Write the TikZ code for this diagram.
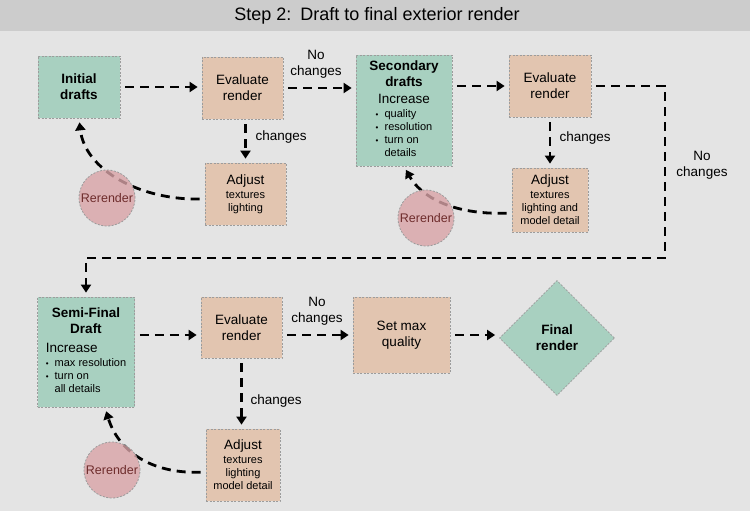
\documentclass[tikz,border=0pt]{standalone}
\usepackage{fontspec}
\setmainfont{Liberation Sans}
\usepackage{xcolor}
\usetikzlibrary{positioning,arrows.meta,shapes.geometric}
\definecolor{pagebg}{HTML}{E4E4E4}
\definecolor{titlebar}{HTML}{CCCCCC}
\definecolor{draftgreen}{HTML}{A8D0C0}
\definecolor{tasktan}{HTML}{E2C5B0}
\definecolor{rerpink}{HTML}{D9A3A7}
\definecolor{rertext}{HTML}{6E2C2C}
\definecolor{boxline}{HTML}{9C9C9C}
\newcommand{\smalltxt}{\fontsize{11}{13}\selectfont}
\newcommand{\bulletmark}{{\fontsize{8}{9}\selectfont\textbullet}}
\begin{document}
\begin{tikzpicture}[
  x=1pt,y=-1pt,
  font=\fontsize{13.5}{16}\selectfont,
  box/.style={draw=boxline,dash pattern=on 2pt off 1.5pt,line width=0.8pt,
              align=center,inner sep=0pt},
  draft/.style={box,fill=draftgreen},
  task/.style={box,fill=tasktan},
  rr/.style={box,circle,fill=rerpink,fill opacity=0.8,text opacity=1,
             text=rertext,minimum size=56pt,font=\fontsize{12.5}{15}\selectfont},
  dar/.style={-{Triangle[length=8pt,width=10pt]},line width=2.8pt,
              dash pattern=on 9pt off 6pt,shorten <=5pt,shorten >=4pt},
  lbl/.style={align=center,font=\fontsize{13.5}{16}\selectfont}
]
\useasboundingbox (0,0) rectangle (750,511);
% background + title
\fill[pagebg] (0,0) rectangle (750,511);
\fill[titlebar] (0,0) rectangle (750,31);
\node[font=\fontsize{18}{21}\selectfont] (title) at (377,16) {Step 2:\enspace Draft to final exterior render};
% first row
\node[draft,minimum width=82pt,minimum height=62pt,font=\bfseries\fontsize{13.5}{16}\selectfont] (init) at (79,87) {Initial\\drafts};
\node[task,minimum width=81pt,minimum height=62pt] (eval1) at (242.5,88) {Evaluate\\render};
\node[task,minimum width=81pt,minimum height=62pt] (adj1) at (245.5,194) {Adjust\\[-2pt]\smalltxt textures\\[-3pt]\smalltxt lighting};
\node[draft,minimum width=96pt,minimum height=111pt] (sec) at (404,110.5)
   {\textbf{Secondary}\\\textbf{drafts}\\[1pt]Increase\\[-2pt]
    \smalltxt\begin{tabular}[t]{@{}l@{\ \ }l@{}}\bulletmark&quality\\ \bulletmark&resolution\\ \bulletmark&turn on\\ &details\end{tabular}};
\node[task,minimum width=82pt,minimum height=62pt] (eval2) at (550,86) {Evaluate\\render};
\node[task,minimum width=76pt,minimum height=64pt] (adj2) at (550,200) {Adjust\\[-2pt]\smalltxt textures\\[-3pt]\smalltxt lighting and\\[-3pt]\smalltxt model detail};
% second row
\node[draft,minimum width=97pt,minimum height=110pt] (semi) at (86,352)
   {\textbf{Semi-Final}\\\textbf{Draft}\\[3pt]
    \begin{tabular}[t]{@{}l@{}}Increase\\[-2pt]
    \smalltxt\begin{tabular}[t]{@{}l@{\ \ }l@{}}\bulletmark&max resolution\\ \bulletmark&turn on\\ &all details\end{tabular}\end{tabular}};
\node[task,minimum width=81pt,minimum height=61pt] (eval3) at (241.5,327.5) {Evaluate\\render};
\node[task,minimum width=74pt,minimum height=72pt] (adj3) at (243,465) {Adjust\\[-2pt]\smalltxt textures\\[-3pt]\smalltxt lighting\\[-3pt]\smalltxt model detail};
\node[task,minimum width=97pt,minimum height=76pt] (setmax) at (401.5,335) {Set max\\quality};
\node[box,diamond,fill=draftgreen,minimum width=115pt,minimum height=115pt,font=\bfseries\fontsize{13.5}{16}\selectfont] (final) at (557,338) {Final\\render};
\coordinate (c1) at (665,258);
% labels
\node[lbl] (nc1) at (316,64) {No\\changes};
\node[lbl] (nc2) at (702,165) {No\\changes};
\node[lbl] (nc3) at (317,311) {No\\changes};
\node[lbl,anchor=west] (ch1) at (252,137) {changes};
\node[lbl,anchor=west] (ch2) at (556,138) {changes};
\node[lbl,anchor=west] (ch3) at (247,401) {changes};
% connectors
\draw[dar] (init.east) -- (init.east -| eval1.west);
\draw[dar] (eval1.east) -- (eval1.east -| sec.west);
\draw[dar] (adj1.north |- eval1.south) -- (adj1.north);
\draw[dar] (sec.east |- eval2) -- (eval2.west);
\draw[dar] (eval2.south) -- (adj2.north);
\draw[dar] (eval2.east) -| (c1) -| (semi.north);
\draw[dar] (semi.east |- setmax) -- (eval3.west |- setmax);
\draw[dar] (eval3.east |- setmax) -- (setmax.west);
\draw[dar] (eval3.south) -- (eval3.south |- adj3.north);
\draw[dar] (setmax.east) -- (setmax.east -| final.west);
% rerender loops
\draw[dar] ([yshift=-5pt]adj1.west) .. controls (140,200) and (85,170) .. (init.south);
\draw[dar] ([yshift=-13pt]adj2.west) .. controls (450,215) and (420,195) .. (sec.south);
\draw[dar] ([yshift=-7pt]adj3.west) .. controls (150,474) and (118,450) .. ([xshift=19pt]semi.south);
\node[rr] (rr1) at (107,198) {Rerender};
\node[rr] (rr2) at (426,218) {Rerender};
\node[rr] (rr3) at (112,470) {Rerender};
\end{tikzpicture}
\end{document}
